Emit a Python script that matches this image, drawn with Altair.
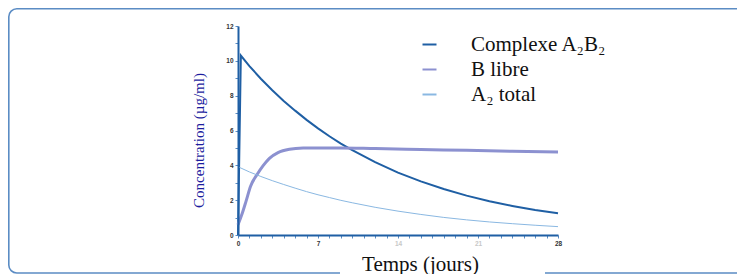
import altair as alt
import pandas as pd

# ---- data ----
jours_complexe = [0, 0.25, 1, 2, 3, 4, 5, 6, 7, 8, 9, 10, 12, 14, 16, 18, 20, 22, 24, 26, 28]
complexe = [0, 10.3, 9.7, 8.97, 8.31, 7.70, 7.14, 6.61, 6.12, 5.67, 5.25, 4.87, 4.18, 3.58,
            3.08, 2.64, 2.26, 1.94, 1.67, 1.43, 1.25]

jours_b = [0, 0.35, 0.7, 1.1, 1.7, 2.2, 2.75, 3.5, 4.5, 5.7, 7, 9, 12, 16, 20, 24, 28]
b_libre = [0.59, 1.2, 1.93, 2.8, 3.5, 3.98, 4.4, 4.73, 4.92, 4.99, 5.0, 5.0, 4.96, 4.91,
           4.86, 4.81, 4.77]

jours_a2 = [0, 1, 2, 3, 4, 5, 6, 7, 8, 9, 10, 12, 14, 16, 18, 20, 22, 24, 26, 28]
a2_total = [3.92, 3.62, 3.36, 3.12, 2.90, 2.69, 2.49, 2.31, 2.15, 1.99, 1.85, 1.59, 1.37,
            1.18, 1.01, 0.87, 0.75, 0.65, 0.56, 0.48]

series_names = ["Complexe A\u2082B\u2082", "B libre", "A\u2082 total"]
series_colors = ["#1f5fa4", "#8c91d0", "#8ab8e2"]
series_widths = [2.0, 3.0, 1.0]
series_interp = ["linear", "monotone", "monotone"]
series_x = [jours_complexe, jours_b, jours_a2]
series_y = [complexe, b_libre, a2_total]

x_ticks = list(range(0, 29))
y_ticks = list(range(0, 13))

W, H = 320, 209
PAD_L, PAD_T = 230, 18
SVG_W, SVG_H = 729, 266
FRAME_COLOR = "#5b8cc4"

color_scale = alt.Scale(domain=series_names, range=series_colors)

x_enc = alt.X(
    "jour:Q",
    scale=alt.Scale(domain=[0, 28], nice=False),
    axis=alt.Axis(
        title="Temps (jours)",
        values=x_ticks,
        labelExpr="datum.value % 7 == 0 ? datum.label : ''",
        labelOverlap=False,
        labelFlush=False,
        grid=False,
        zindex=1,
        domainColor="#1f5fa4", domainWidth=2,
        tickColor="#5b8cc4", tickSize=3, tickWidth=1,
        labelFont="Liberation Sans", labelFontSize=6.5, labelFontWeight="bold",
        labelColor=alt.condition("datum.value == 14 || datum.value == 21",
                                 alt.value("#c8c8c8"), alt.value("#333333")),
        labelPadding=2,
        titleFont="Liberation Serif", titleFontSize=21, titleFontWeight="normal",
        titleColor="#111111",
        titleX=182, titleY=35, titleBaseline="alphabetic", titleAnchor="middle",
    ),
)
y_enc = alt.Y(
    "conc:Q",
    scale=alt.Scale(domain=[0, 12], nice=False),
    axis=alt.Axis(
        title="Concentration (\u00b5g/ml)",
        values=y_ticks,
        labelExpr="datum.value % 2 == 0 ? datum.label : ''",
        labelOverlap=False,
        labelFlush=False,
        grid=False,
        zindex=1,
        domainColor="#1f5fa4", domainWidth=2,
        tickColor="#5b8cc4", tickSize=3, tickWidth=1,
        labelFont="Liberation Sans", labelFontSize=6.5, labelFontWeight="bold",
        labelColor="#333333", labelPadding=2,
        titleFont="Liberation Serif", titleFontSize=15, titleFontWeight="normal",
        titleColor="#1c1c9e",
        titleX=-40, titleY=114, titleBaseline="middle", titleAngle=270,
    ),
)
color_enc = alt.Color(
    "serie:N",
    scale=color_scale,
    legend=alt.Legend(
        title=None, orient="none", legendX=181, legendY=8,
        symbolType="stroke", symbolSize=196, symbolStrokeWidth=2,
        labelFont="Liberation Serif", labelFontSize=21, labelColor="#111111",
        labelOffset=31, rowPadding=3, padding=0, labelLimit=300,
    ),
)

one = pd.DataFrame({"k": [0]})

frame = alt.Chart(one).mark_rect(
    filled=False, stroke=FRAME_COLOR, strokeWidth=1.6, cornerRadius=8
).encode(
    x=alt.value(-229.2), x2=alt.value(560),
    y=alt.value(-17.2), y2=alt.value(247.0),
)

gap = alt.Chart(one).mark_rect(fill="white", stroke=None).encode(
    x=alt.value(102), x2=alt.value(307),
    y=alt.value(244), y2=alt.value(250),
)

layers = [frame, gap]
for name, xs, ys, w, ip in zip(series_names, series_x, series_y, series_widths, series_interp):
    d = pd.DataFrame({"jour": xs, "conc": ys, "serie": [name] * len(xs)})
    layers.append(
        alt.Chart(d).mark_line(interpolate=ip, strokeWidth=w).encode(
            x=x_enc, y=y_enc, color=color_enc
        )
    )

chart = alt.layer(*layers).properties(
    width=W, height=H,
    autosize=alt.AutoSizeParams(type="none"),
    padding={"left": PAD_L, "top": PAD_T, "right": SVG_W - PAD_L - W, "bottom": SVG_H - PAD_T - H},
    background="white",
).configure_view(stroke=None)

chart.save("out.html", embed_options={"renderer": "svg", "actions": False})
